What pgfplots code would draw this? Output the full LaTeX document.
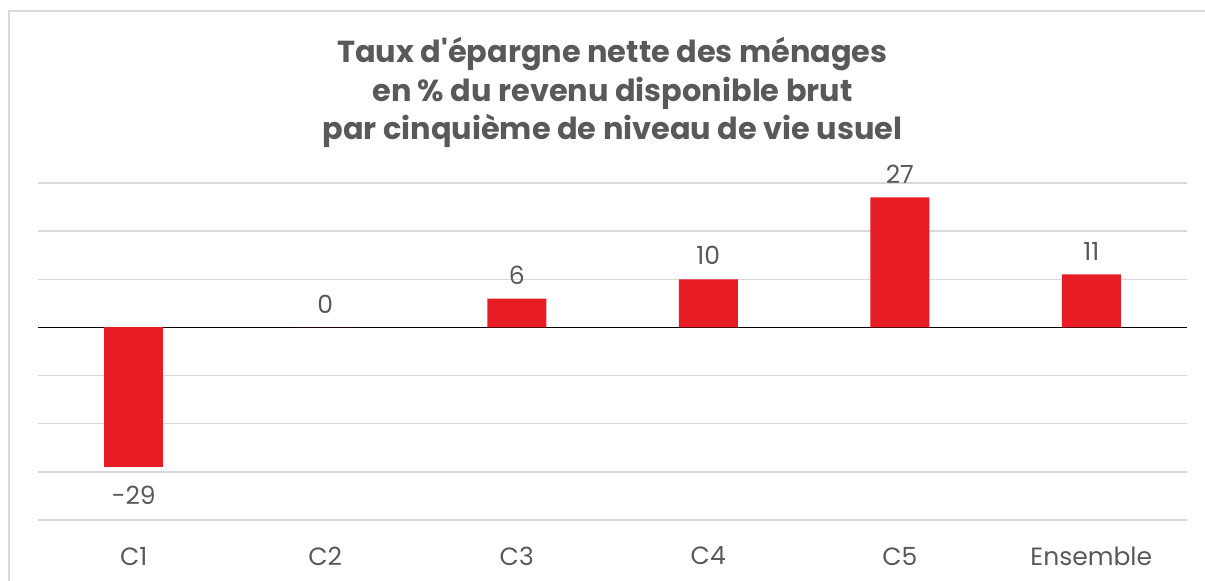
\documentclass[border=0pt]{standalone}
\usepackage{fontspec}
\setmainfont{Poppins}
\usepackage{pgfplots}
\pgfplotsset{compat=1.18}
\definecolor{barred}{HTML}{E81C24}
\definecolor{txtgray}{HTML}{595959}
\definecolor{gridgray}{HTML}{D9D9D9}

\begin{document}
\begin{tikzpicture}
\begin{axis}[
  width=574.5pt, height=168.5pt, scale only axis,
  xmin=-0.5, xmax=5.5, ymin=-40, ymax=30,
  xtick={0,1,2,3,4,5},
  xticklabels={C1,C2,C3,C4,C5,Ensemble},
  ytick={-40,-30,-20,-10,10,20,30},
  yticklabels={},
  extra y ticks={0}, extra y tick labels={},
  extra y tick style={grid style={draw=black, line width=0.9pt}},
  ymajorgrids,
  grid style={draw=gridgray, line width=0.75pt},
  axis line style={draw=none},
  major tick length=0pt,
  ybar, bar width=29.5pt, bar shift=0pt,
  ticklabel style={font=\fontsize{12.5}{14}\selectfont, text=txtgray},
  xticklabel style={yshift=-10pt},
  point meta=explicit symbolic,
  nodes near coords,
  nodes near coords style={font=\fontsize{12.5}{14}\selectfont, text=txtgray, inner sep=7pt},
  clip=false,
]
\addplot[fill=barred, draw=none] coordinates {(1,0) [0] (2,6) [6] (3,10) [10] (4,27) [27] (5,11) [11]};
\addplot[fill=barred, draw=none, every node near coord/.append style={anchor=north, yshift=-2.5pt}] coordinates {(0,-29) [-29]};
\coordinate (sw) at (rel axis cs:0,0);
\coordinate (ne) at (rel axis cs:1,1);
\coordinate (tc) at (rel axis cs:0.5,1);
\end{axis}
\node[font=\bfseries\fontsize{15.2}{19.25}\selectfont, text=txtgray, align=center, anchor=north, inner sep=0pt]
  at ([yshift=73pt]tc) {Taux d\textquotesingle épargne nette des ménages\\en \% du revenu disponible brut\\par cinquième de niveau de vie usuel};
\pgfresetboundingbox
\path[use as bounding box] ([xshift=-19pt,yshift=-30.5pt]sw) rectangle ([xshift=9pt,yshift=91.5pt]ne);
\draw[draw=gridgray, line width=0.75pt] ([xshift=-14.5pt,yshift=-40pt]sw) -- ([xshift=-14.5pt,yshift=86pt]sw|-ne) -- ([xshift=20pt,yshift=86pt]ne);
\end{tikzpicture}
\end{document}
